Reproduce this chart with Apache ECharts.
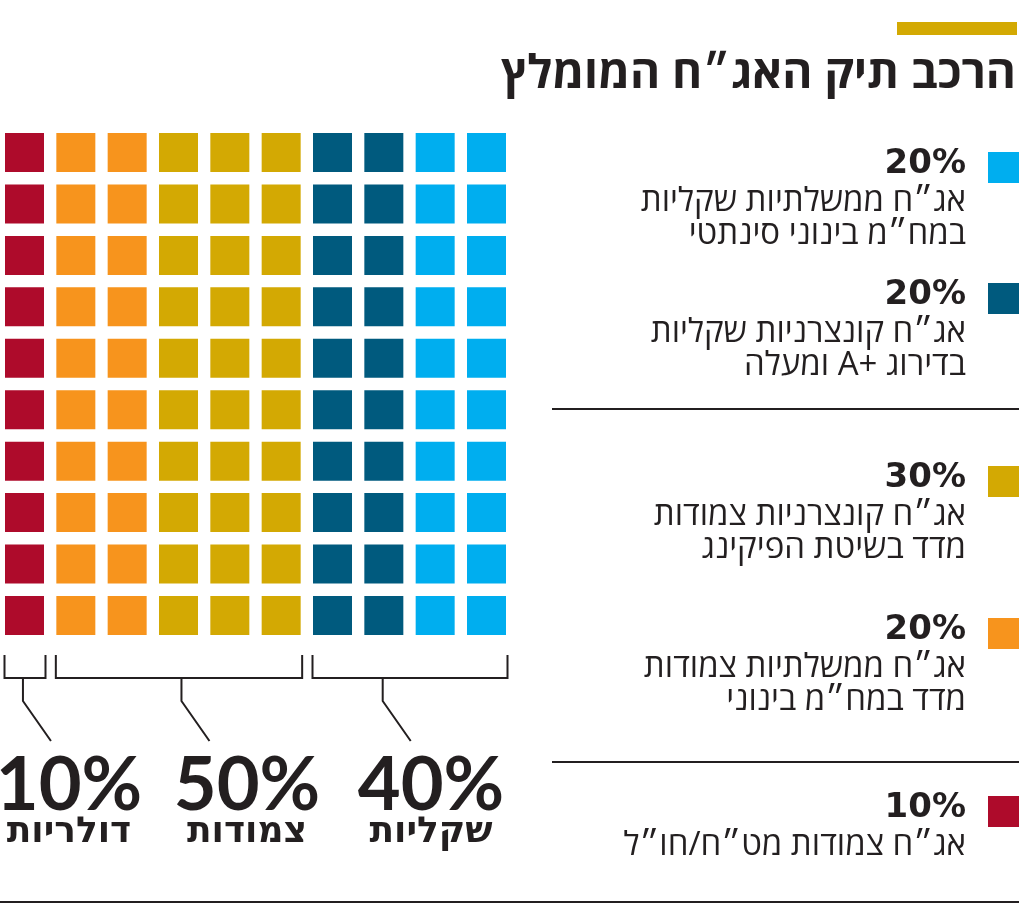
<!DOCTYPE html>
<html><head><meta charset="utf-8">
<script src="https://cdn.jsdelivr.net/npm/echarts@6/dist/echarts.min.js"></script>
<style>html,body{margin:0;padding:0;background:#fff}#c{width:1024px;height:919px}</style>
</head><body><div id="c"></div>
<script>
// ---- data ----
const titleText = 'הרכב תיק האג״ח המומלץ';
const categories = ['מט״ח/חו״ל', 'ממשלתיות צמודות', 'קונצרניות צמודות', 'קונצרניות שקליות', 'ממשלתיות שקליות'];
const shares = [10, 20, 30, 20, 20];
const colors = ['#AE0B2B', '#F7941D', '#D3A903', '#005A7E', '#00AEEF'];
const legendOrder = [4, 3, 2, 1, 0];
const LRE = '\u202A', RLE = '\u202B', PDF = '\u202C';
const legendLines = [
  ['אג״ח צמודות מט״ח/חו״ל'],
  ['אג״ח ממשלתיות צמודות', 'מדד במח״מ בינוני'],
  ['אג״ח קונצרניות צמודות', 'מדד בשיטת הפיקינג'],
  ['אג״ח קונצרניות שקליות', 'בדירוג ' + LRE + 'A+' + PDF + ' ומעלה'],
  ['אג״ח ממשלתיות שקליות', 'במח״מ בינוני סינתטי']
];
const groupNames = ['דולריות', 'צמודות', 'שקליות'];
const groupShares = [10, 50, 40];
const gridCols = 10, gridRows = 10;

// ---- layout ----
const HEB = "'Open Sans','Liberation Sans','DejaVu Sans',sans-serif";
const HEBB = "'DejaVu Sans','Open Sans','Liberation Sans',sans-serif";
const NUM = "Lato,'Open Sans','Liberation Sans',sans-serif";
const NUM2 = "'DejaVu Sans',Lato,sans-serif";
const cell = 39;
const legendTops = [152, 283, 466, 618, 796];
const sepAfter = [{ y: 409 }, { y: 762 }];
const stemFrac = [0.45, 0.51, 0.36];
const groupTextX = [69, 247, 431];

// waffle cells, column-major
const seriesData = categories.map(() => []);
let cum = [], acc = 0;
shares.forEach(s => { acc += s; cum.push(acc); });
for (let k = 0; k < gridCols * gridRows; k++) {
  const col = Math.floor(k / gridRows), row = k % gridRows;
  let ci = cum.findIndex(c => k < c);
  seriesData[ci].push([col, row]);
}

const chart = echarts.init(document.getElementById('c'), null, { renderer: 'canvas' });
chart.setOption({
  backgroundColor: '#fff',
  animation: false,
  grid: { left: 24.5, top: 152.5, width: 462, height: 463 },
  xAxis: { type: 'value', min: 0, max: gridCols - 1, show: false },
  yAxis: { type: 'value', min: 0, max: gridRows - 1, inverse: true, show: false },
  series: categories.map((c, i) => ({
    type: 'scatter', name: c, symbol: 'rect', symbolSize: cell,
    itemStyle: { color: colors[i], opacity: 1 }, data: seriesData[i], silent: true
  }))
});

// ---- annotations ----
const g = [];
g.push({ type: 'rect', shape: { x: 897, y: 22, width: 120, height: 13 }, style: { fill: '#D3A903' } });
g.push({ type: 'text', x: 1016, y: 75, style: { text: RLE + titleText + PDF, font: "bold 46px " + HEB, fill: '#231F20', align: 'right', verticalAlign: 'middle' } });

legendOrder.forEach((ci, li) => {
  const top = legendTops[li];
  g.push({ type: 'rect', shape: { x: 988, y: top, width: 31, height: 31 }, style: { fill: colors[ci] } });
  g.push({ type: 'text', x: 966, y: top + 12, style: { text: shares[ci] + '%', font: "bold 34px " + NUM2, fill: '#231F20', align: 'right', verticalAlign: 'middle' } });
  legendLines[ci].forEach((ln, j) => {
    g.push({ type: 'text', x: 966, y: top + 50 + j * 33, style: { text: RLE + ln + PDF, font: "33px " + HEB, fill: '#231F20', align: 'right', verticalAlign: 'middle' } });
  });
});
sepAfter.forEach(s => g.push({ type: 'line', shape: { x1: 552, y1: s.y, x2: 1019, y2: s.y }, style: { stroke: '#231F20', lineWidth: 2 } }));
g.push({ type: 'line', shape: { x1: 0, y1: 902, x2: 1019, y2: 902 }, style: { stroke: '#231F20', lineWidth: 2 } });

// brackets computed from axis
let colStart = 0;
groupShares.forEach((s, gi) => {
  const ncol = s / gridRows;
  const c0 = colStart, c1 = colStart + ncol - 1;
  colStart += ncol;
  const xl = chart.convertToPixel({ gridIndex: 0 }, [c0, 0])[0] - cell / 2 - 0.5;
  const xr = chart.convertToPixel({ gridIndex: 0 }, [c1, 0])[0] + cell / 2 + 1.5;
  const yTop = 655, yH = 678, yStem = 701, yEnd = 741;
  const xs = xl + stemFrac[gi] * (xr - xl);
  const st = { stroke: '#231F20', lineWidth: 2, fill: null };
  g.push({ type: 'polyline', shape: { points: [[xl, yTop], [xl, yH], [xr, yH], [xr, yTop]] }, style: st });
  g.push({ type: 'polyline', shape: { points: [[xs, yH], [xs, yStem], [xs + 28, yEnd]] }, style: st });
  g.push({ type: 'text', x: groupTextX[gi], y: 786, style: { text: s + '%', font: "bold 74px " + NUM, fill: '#231F20', align: 'center', verticalAlign: 'middle' } });
  g.push({ type: 'text', x: groupTextX[gi], y: 833, style: { text: RLE + groupNames[gi] + PDF, font: "bold 36px " + HEBB, fill: '#231F20', align: 'center', verticalAlign: 'middle' } });
});
chart.setOption({ graphic: { elements: g } });
</script></body></html>
